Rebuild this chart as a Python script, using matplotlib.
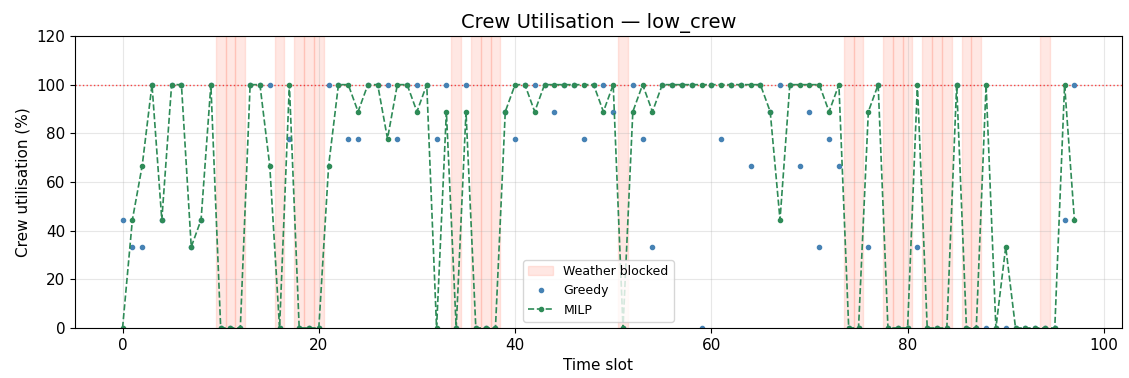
# Gráfico de utilización de tripulación: Greedy vs MILP
import numpy as np
import matplotlib
matplotlib.use("Agg")
import matplotlib.pyplot as plt

# Tamaño de la tripulación (escenario low_crew)
crew_size = 9

# Tripulantes ocupados por franja horaria (0..97)
greedy_busy = [
    4, 3, 3, 9, 4, 9, 9, 3, 4, 9,
    0, 0, 0, 9, 9, 9, 0, 7, 0, 0,
    0, 9, 9, 7, 7, 9, 9, 9, 7, 9,
    9, 9, 7, 9, 0, 9, 0, 0, 0, 8,
    7, 9, 9, 9, 8, 9, 9, 7, 9, 9,
    8, 0, 9, 7, 3, 9, 9, 9, 9, 0,
    9, 7, 9, 9, 6, 9, 8, 9, 9, 6,
    8, 3, 7, 6, 0, 0, 3, 9, 0, 0,
    0, 3, 0, 0, 0, 9, 0, 0, 0, 0,
    0, 0, 0, 0, 0, 0, 4, 9,
]

milp_busy = [
    0, 4, 6, 9, 4, 9, 9, 3, 4, 9,
    0, 0, 0, 9, 9, 6, 0, 9, 0, 0,
    0, 6, 9, 9, 8, 9, 9, 7, 9, 9,
    8, 9, 0, 8, 0, 8, 0, 0, 0, 8,
    9, 9, 8, 9, 9, 9, 9, 9, 9, 8,
    9, 0, 8, 9, 8, 9, 9, 9, 9, 9,
    9, 9, 9, 9, 9, 9, 8, 4, 9, 9,
    9, 9, 8, 9, 0, 0, 8, 9, 0, 0,
    0, 9, 0, 0, 0, 9, 0, 0, 9, 0,
    3, 0, 0, 0, 0, 0, 9, 4,
]

# Franjas bloqueadas por meteorología
blocked_slots = [10, 11, 12, 16, 18, 19, 20, 34, 36, 37, 38, 51,
                 74, 75, 78, 79, 80, 82, 83, 84, 86, 87, 94]


def main():
    slots = np.arange(len(milp_busy))
    greedy_util = np.array(greedy_busy) / crew_size * 100
    milp_util = np.array(milp_busy) / crew_size * 100

    fig, ax = plt.subplots(figsize=(11.29, 3.78), dpi=100)
    fig.subplots_adjust(left=0.0664, right=0.9938, top=0.9048, bottom=0.1323)

    # Franjas bloqueadas
    for i, s in enumerate(blocked_slots):
        ax.axvspan(s - 0.5, s + 0.5, color='tomato', alpha=0.15,
                   label='Weather blocked' if i == 0 else None)

    ax.axhline(100, color='red', linestyle=':', linewidth=1, alpha=0.7)

    ax.plot(slots, greedy_util, 'o', color='steelblue', markersize=3,
            label='Greedy')
    ax.plot(slots, milp_util, '--o', color='seagreen', markersize=3,
            linewidth=1.2, label='MILP')

    ax.set_ylim(0, 120)
    ax.set_title('Crew Utilisation — low_crew', fontsize=14)
    ax.set_xlabel('Time slot', fontsize=11)
    ax.set_ylabel('Crew utilisation (%)', fontsize=11)
    ax.tick_params(labelsize=11)
    ax.grid(True, alpha=0.3)
    ax.legend(loc='lower center', fontsize=9)

    plt.savefig('out.png', dpi=100)


if __name__ == "__main__":
    main()
